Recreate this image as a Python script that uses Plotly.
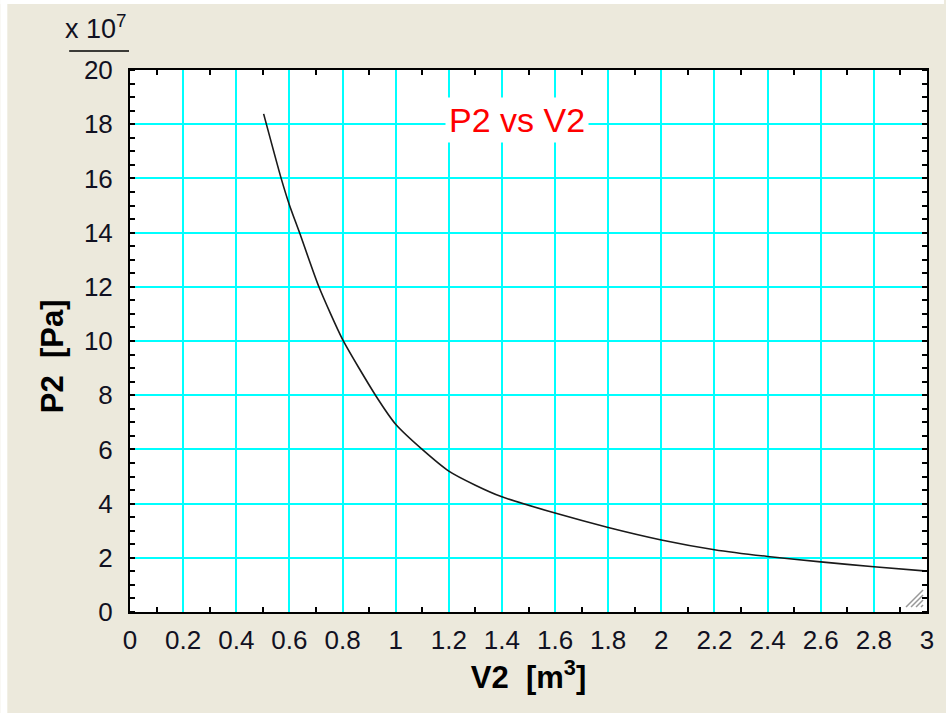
import plotly.graph_objects as go

# Data (V2 in m^3, P2 in Pa)
V2 = [0.503, 0.569, 0.60, 0.638, 0.711, 0.80, 0.924, 1.00, 1.10, 1.20,
      1.30, 1.40, 1.60, 1.80, 2.00, 2.20, 2.40, 2.60, 2.80, 3.00]
P2 = [1.838e8, 1.60e8, 1.502e8, 1.40e8, 1.20e8, 1.006e8, 0.80e8, 0.693e8, 0.60e8, 0.52e8,
      0.468e8, 0.425e8, 0.365e8, 0.312e8, 0.266e8, 0.230e8, 0.205e8, 0.185e8, 0.167e8, 0.151e8]

y_tickvals = [i * 2e7 for i in range(11)]
y_ticktext = [str(i * 2) for i in range(11)]

FONT = "Liberation Sans, Arial, sans-serif"
BEIGE = "#ECE9DC"

fig = go.Figure()
fig.add_trace(go.Scatter(x=V2, y=P2, mode="lines",
                         line=dict(color="#1a1a1a", width=1.6, shape="spline", smoothing=0.6),
                         showlegend=False, hoverinfo="skip"))

W, H = 946, 713
L, R, T, B = 130, 17, 70, 101
pw, ph = W - L - R, H - T - B

def px(xp):
    return (xp - L) / pw

def py(yp):
    return (H - B - yp) / ph

fig.update_layout(
    width=W, height=H,
    margin=dict(l=L, r=R, t=T, b=B),
    paper_bgcolor=BEIGE, plot_bgcolor="white",
    font=dict(family=FONT, size=25, color="#111122"),
    xaxis=dict(range=[0, 3], dtick=0.2, tick0=0, showgrid=True, gridcolor="#00FFFF", gridwidth=2,
               zeroline=False, showline=True, linecolor="black", linewidth=2, mirror="allticks",
               ticks="", ticklabelstandoff=4,
               minor=dict(dtick=0.1, ticks="inside", ticklen=5, tickwidth=1.5, tickcolor="black", showgrid=False),
               title=dict(text="<b>V2  [m<sup>3</sup>]</b>", font=dict(size=31, color="black"), standoff=10),
               tickfont=dict(size=26)),
    yaxis=dict(range=[0, 2e8], tickvals=y_tickvals, ticktext=y_ticktext, showgrid=True,
               gridcolor="#00FFFF", gridwidth=2, zeroline=False, showline=True, linecolor="black",
               linewidth=2, mirror="allticks", ticks="", ticklabelstandoff=10,
               minor=dict(dtick=5e6, tick0=0, ticks="inside", ticklen=5, tickwidth=1.5, tickcolor="black", showgrid=False),
               tickfont=dict(size=26)),
)

# Y axis title (centered as in the reference)
fig.add_annotation(text="<b>P2  [Pa]</b>", xref="paper", yref="paper", x=px(52), y=py(356),
                   xanchor="center", yanchor="middle", textangle=-90, showarrow=False,
                   font=dict(size=31, color="black", family=FONT))

# Chart title inside the plot
fig.add_annotation(text="P2 vs V2", xref="paper", yref="paper", x=px(518), y=py(120),
                   xanchor="center", yanchor="middle",
                   showarrow=False, font=dict(size=34, color="#FF0000", family=FONT),
                   bgcolor="white", borderpad=3)

# Exponent label
fig.add_annotation(text="x 10<sup>7</sup>", xref="paper", yref="paper", x=px(129), y=py(46),
                   xanchor="right", yanchor="bottom", showarrow=False,
                   font=dict(size=27, color="#111122", family=FONT))
fig.add_shape(type="line", xref="paper", yref="paper", x0=px(69), x1=px(129), y0=py(51), y1=py(51),
              line=dict(color="black", width=1.5))

# White strips at top and left edges
fig.add_shape(type="rect", xref="paper", yref="paper", x0=px(0), x1=px(7), y0=py(0), y1=py(H),
              line=dict(width=0), fillcolor="white")
fig.add_shape(type="rect", xref="paper", yref="paper", x0=px(0), x1=px(W), y0=py(0), y1=py(4),
              line=dict(width=0), fillcolor="white")

# Resize grip hatch in the lower right corner
for k in range(4):
    fig.add_shape(type="line", xref="paper", yref="paper",
                  x0=px(908 + 5 * k), y0=py(607), x1=px(925), y1=py(590 + 5 * k),
                  line=dict(color="#999999", width=1.5))

fig.write_html("out.html")
